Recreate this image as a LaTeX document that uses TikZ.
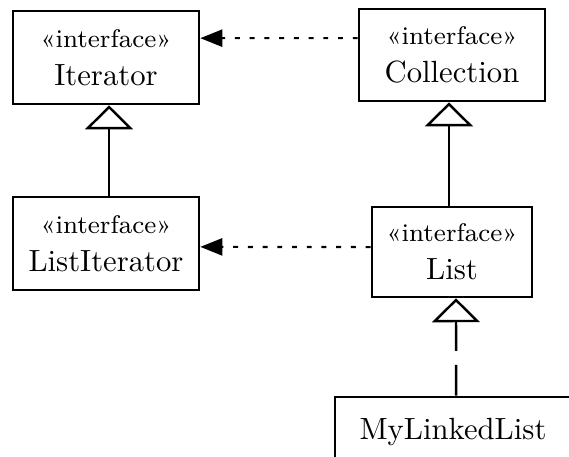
\documentclass[tikz,border=0pt]{standalone}
\usepackage{fontspec}
\usepackage{tikz}
\usetikzlibrary{arrows.meta}

\newcommand{\stereo}[1]{{\fontsize{8.3}{10}\selectfont «#1»}}
\tikzset{
    classbox/.style={draw,line width=0.9pt,align=center,inner sep=0pt,font=\fontsize{10}{12.5}\selectfont},
    realize/.style={line width=0.7pt,dash pattern=on 1.6pt off 3.2pt,-{Triangle[length=7.2pt,width=5.6pt]}},
    inherit/.style={line width=0.8pt,-{Triangle[open,length=7.8pt,width=15.6pt]}},
}

\begin{document}
\begin{tikzpicture}[x=0.326pt,y=-0.326pt]
        \useasboundingbox (0,0) rectangle (569,456);
        \clip (0,0) rectangle (569,456);

        \node[classbox,minimum width=60.6pt,minimum height=30.3pt](iter)at(106,57.5){\stereo{interface}\\Iterator};
        \node[classbox,minimum width=60.6pt,minimum height=30pt](coll)at(452,55){\stereo{interface}\\Collection};
        \node[classbox,minimum width=60.6pt,minimum height=30.3pt](listiter)at(106,243.5){\stereo{interface}\\ListIterator};
        \node[classbox,minimum width=52.2pt,minimum height=29.3pt](list)at(452,252){\stereo{interface}\\List};
        \node[classbox,minimum width=76.9pt,minimum height=22.8pt](mylist)at(453,432){MyLinkedList};

        \draw[realize] ([yshift=5.5pt]coll.west) -- ([yshift=6.3pt]iter.east);
        \draw[realize] ([yshift=1.6pt]list.west) -- ([yshift=-1.1pt]listiter.east);

        \draw[inherit] ([xshift=1pt]listiter.north) -- ([xshift=1pt]iter.south);
        \draw[inherit] ([xshift=-1pt]list.north) -- ([xshift=-1pt]coll.south);
        \draw[inherit,dash pattern=on 10pt off 4.6pt] ([xshift=1pt]mylist.north) -- ([xshift=1.3pt]list.south);
\end{tikzpicture}
\end{document}
